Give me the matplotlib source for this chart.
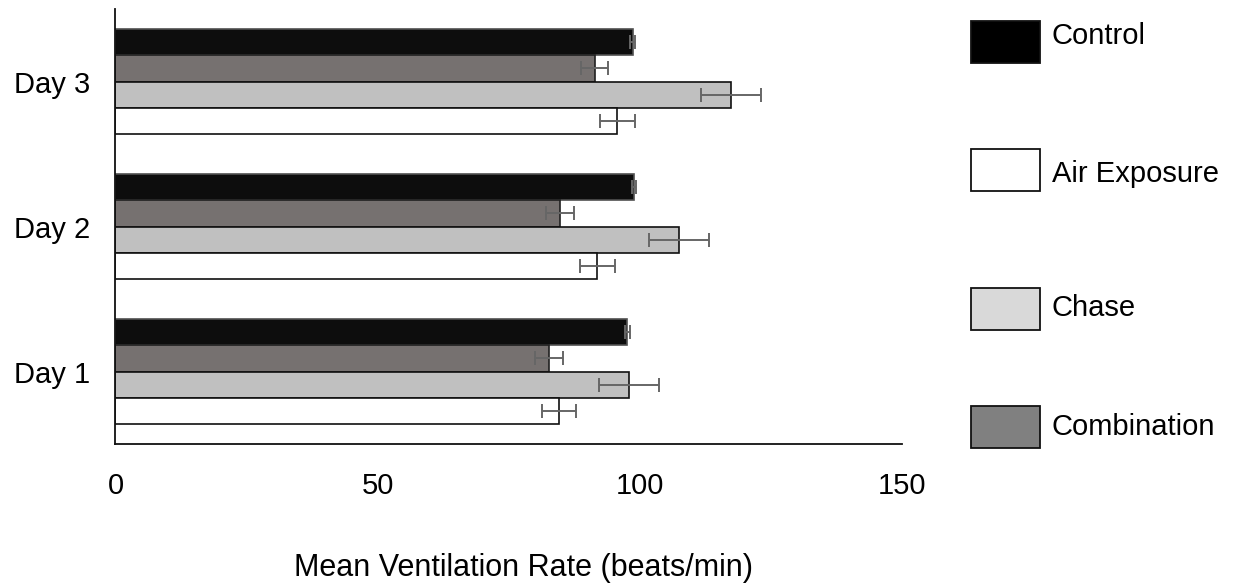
import numpy as np
import matplotlib.pyplot as plt
from matplotlib.patches import Rectangle

plt.rcParams['font.family'] = ['Liberation Sans', 'DejaVu Sans']

days = ['Day 1', 'Day 2', 'Day 3']
series = ['Control', 'Combination', 'Chase', 'Air Exposure']

# mean ventilation rate per day (Day 1, Day 2, Day 3)
control = [97.6, 98.9, 98.6]
combination = [82.6, 84.8, 91.4]
chase = [97.9, 107.4, 117.4]
air_exposure = [84.6, 91.9, 95.7]

control_err = [0.45, 0.4, 0.55]
combination_err = [2.65, 2.7, 2.6]
chase_err = [5.7, 5.7, 5.7]
air_exposure_err = [3.3, 3.3, 3.3]

x_ticks = [0, 50, 100, 150]

bar_colors = ['#0d0d0d', '#767170', '#c0c0c0', '#ffffff']
bar_edges = ['#505050', '#202020', '#101010', '#101010']
legend_colors = {'Control': '#000000', 'Air Exposure': '#ffffff',
                 'Chase': '#d9d9d9', 'Combination': '#808080'}

fig = plt.figure(figsize=(12.35, 5.86), dpi=100)
ax = fig.add_axes([0.0935, 0.2423, 0.6369, 0.7423])

y = np.arange(len(days))
h = 0.18
offsets = [1.5 * h, 0.5 * h, -0.5 * h, -1.5 * h]
values = [control, combination, chase, air_exposure]
errors = [control_err, combination_err, chase_err, air_exposure_err]

for vals, errs, off, fc, ec in zip(values, errors, offsets, bar_colors, bar_edges):
    ax.barh(y + off, vals, height=h, color=fc, edgecolor=ec, linewidth=1.2, zorder=2)
    ax.errorbar(vals, y + off, xerr=errs, fmt='none', ecolor='#666666',
                elinewidth=1.4, capsize=5, capthick=1.4, zorder=3)

ax.set_xlim(0, 150)
ax.set_ylim(-0.5, 2.5)
ax.set_xticks(x_ticks)
ax.set_xticklabels([str(t) for t in x_ticks], fontsize=21)
ax.set_yticks(y)
ax.set_yticklabels(days, fontsize=21)
ax.tick_params(axis='both', length=0)
ax.tick_params(axis='x', pad=20)
ax.tick_params(axis='y', pad=18)

for side in ['top', 'right']:
    ax.spines[side].set_visible(False)
for side in ['left', 'bottom']:
    ax.spines[side].set_linewidth(1.3)
    ax.spines[side].set_color('#111111')

fig.text(0.4235, 0.031, 'Mean Ventilation Rate (beats/min)', ha='center', va='center', fontsize=22)

# legend boxes on the right, drawn by hand to keep the wide spacing
legend_order = ['Control', 'Air Exposure', 'Chase', 'Combination']
box_centers = [0.9283, 0.7099, 0.4727, 0.2713]
text_centers = [0.9386, 0.7031, 0.4744, 0.2713]
box_w, box_h = 0.0559, 0.0717
for name, bc, tc in zip(legend_order, box_centers, text_centers):
    fig.patches.append(Rectangle((0.786, bc - box_h / 2), box_w, box_h,
                                 transform=fig.transFigure, facecolor=legend_colors[name],
                                 edgecolor='#111111', linewidth=1.3))
    fig.text(0.8518, tc, name, ha='left', va='center', fontsize=21)

fig.savefig('out.png', dpi=100)
